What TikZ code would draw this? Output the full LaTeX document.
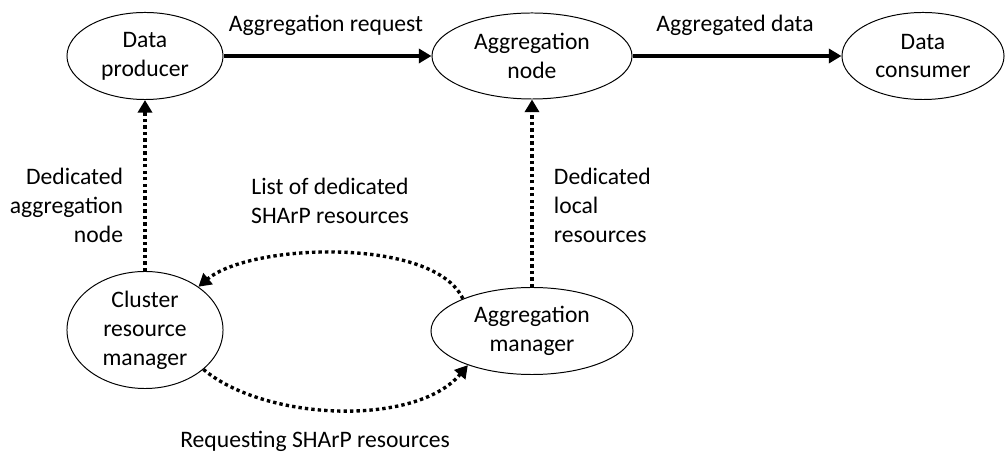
\documentclass[tikz,border=0pt]{standalone}
\usepackage{fontspec}
\setmainfont{Carlito}
\usetikzlibrary{shapes.geometric,arrows.meta}
\begin{document}
\begin{tikzpicture}[x=0.025cm,y=0.025cm,
  font=\fontsize{16.8}{20.6}\selectfont,
  state/.style={ellipse,draw,line width=0.7pt,inner sep=0pt,align=center},
  flow/.style={line width=2.4pt,-{Triangle[length=9pt,width=10pt]}},
  ctrl/.style={flow,dash pattern=on 2.4pt off 2.2pt}]
\useasboundingbox (0,0) rectangle (1005,459);
\node[state,minimum width=3.9cm,minimum height=2.175cm] (prod) at (145,403) {Data\\producer};
\node[state,minimum width=5cm,minimum height=2.15cm] (aggn) at (532,403) {Aggregation\\node};
\node[state,minimum width=4.05cm,minimum height=2.175cm] (cons) at (923,403) {Data\\consumer};
\node[state,minimum width=3.9cm,minimum height=2.925cm] (crm) at (145,129) {Cluster\\resource\\manager};
\node[state,minimum width=5.05cm,minimum height=2.175cm] (am) at (532,128) {Aggregation\\manager};
% labels
\node (lreq) at (326,434) {Aggregation request};
\node (ldata) at (735,434) {Aggregated data};
\node[anchor=east,align=right] (lded) at (128,254) {Dedicated\\aggregation\\node};
\node[align=center] (llist) at (330,258) {List of dedicated\\SHArP resources};
\node[anchor=west,align=left] (lloc) at (549,254) {Dedicated\\local\\resources};
\node (lreqs) at (315,18) {Requesting SHArP resources};
\path [flow]
    (prod) edge (aggn)
    (aggn) edge (cons);
\path [ctrl]
    (crm) edge (prod)
    (am) edge (aggn)
    (am.155) edge[out=115,in=40,looseness=0.66] (crm.39)
    (crm.-34) edge[out=-40,in=230,looseness=0.78] (am.208);
\end{tikzpicture}
\end{document}
